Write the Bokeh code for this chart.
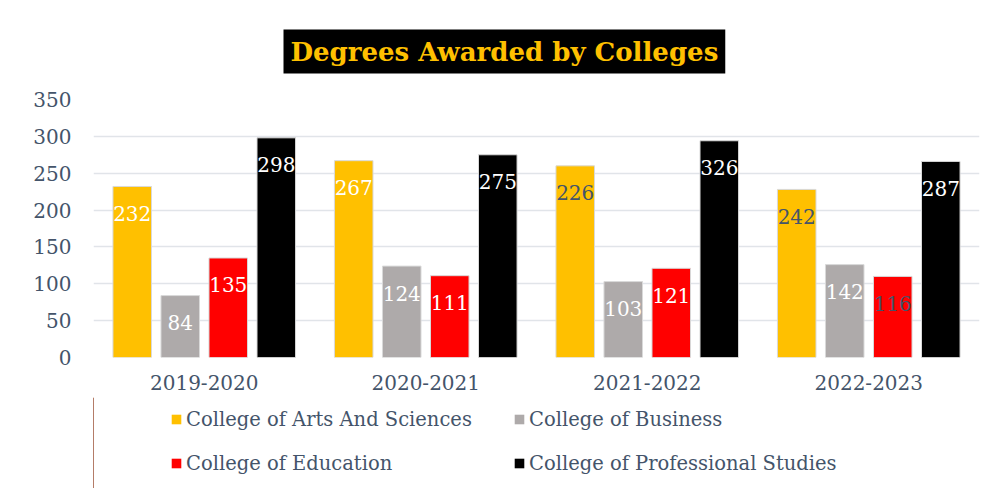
from bokeh.plotting import figure
from bokeh.layouts import column
from bokeh.models import ColumnDataSource, FactorRange, Range1d, FixedTicker, Legend, LegendItem
from bokeh.transform import dodge
from bokeh.core.properties import value
from bokeh.embed import file_html
from bokeh.resources import INLINE

years = ["2019-2020", "2020-2021", "2021-2022", "2022-2023"]
series = ["College of Arts And Sciences", "College of Business",
          "College of Education", "College of Professional Studies"]
# bar heights as drawn
arts = [232, 267, 260, 228]
business = [84, 124, 103, 126]
education = [135, 111, 121, 110]
professional = [298, 275, 294, 266]
# data labels as printed
arts_lbl = ["232", "267", "226", "242"]
business_lbl = ["84", "124", "103", "142"]
education_lbl = ["135", "111", "121", "116"]
professional_lbl = ["298", "275", "326", "287"]
y_ticks = [0, 50, 100, 150, 200, 250, 300, 350]

colors = ["#FFC000", "#AEAAAA", "#FF0000", "#000000"]
WHITE, SLATE = "#FFFFFF", "#44546A"
label_colors = [
    [WHITE, WHITE, SLATE, SLATE],
    [WHITE, WHITE, WHITE, WHITE],
    [WHITE, WHITE, WHITE, SLATE],
    [WHITE, WHITE, WHITE, WHITE],
]
FONT = "DejaVu Serif"

p = figure(x_range=FactorRange(*years, range_padding=0), y_range=Range1d(0, 350),
           frame_width=886, frame_height=258, output_backend="svg", toolbar_location=None,
           min_border_left=93, min_border_right=11, min_border_top=99, min_border_bottom=40)

pitch = 0.2168
offsets = [-1.5 * pitch, -0.5 * pitch, 0.5 * pitch, 1.5 * pitch]
vals = [arts, business, education, professional]
lbls = [arts_lbl, business_lbl, education_lbl, professional_lbl]

for i, name in enumerate(series):
    src = ColumnDataSource(dict(x=years, y=vals[i], t=lbls[i], c=label_colors[i]))
    p.vbar(x=dodge("x", offsets[i], range=p.x_range), top="y", width=0.174, source=src,
           fill_color=colors[i], line_color="#D9D9D9", line_width=1)
    p.text(x=dodge("x", offsets[i], range=p.x_range), y="y", text="t", source=src,
           text_color="c", text_font=value(FONT), text_font_size="20px",
           text_align="center", text_baseline="middle", y_offset=27)

p.title.text = "Degrees Awarded by Colleges"
p.title.text_font = FONT
p.title.text_font_size = "26px"
p.title.text_font_style = "bold"
p.title.text_color = "#FFC000"
p.title.background_fill_color = "#000000"
p.title.padding = 7
p.title.align = "left"
p.title.offset = 190
p.title.standoff = 52

p.yaxis.ticker = FixedTicker(ticks=y_ticks)
p.yaxis.axis_line_color = None
p.yaxis.major_tick_line_color = None
p.yaxis.minor_tick_line_color = None
p.yaxis.major_label_standoff = 16
p.yaxis.major_label_text_font = FONT
p.yaxis.major_label_text_font_size = "20px"
p.yaxis.major_label_text_color = SLATE

p.xaxis.axis_line_color = None
p.xaxis.major_tick_line_color = None
p.xaxis.minor_tick_line_color = None
p.xaxis.major_label_standoff = 11
p.xaxis.major_label_text_font = FONT
p.xaxis.major_label_text_font_size = "20px"
p.xaxis.major_label_text_color = SLATE

p.xgrid.grid_line_color = None
p.ygrid.grid_line_color = "#E1E4E9"
p.ygrid.grid_line_width = 1.5
p.outline_line_color = None

# legend panel below the chart (frame aligned with the chart's frame)
lf = figure(width=990, height=91, output_backend="svg", toolbar_location=None,
            x_range=Range1d(0, 1), y_range=Range1d(0, 1),
            x_axis_location=None, y_axis_location=None, min_border=0)
lf.grid.grid_line_color = None
lf.outline_line_color = None
items = []
for i, name in enumerate(series):
    # proxy renderers lie outside the visible range; only their legend swatches show
    r = lf.vbar(x=[-10], top=[1], width=0.1, fill_color=colors[i], line_color=None)
    items.append(LegendItem(label=name, renderers=[r]))

def make_legend(its, y):
    return Legend(items=its, orientation="horizontal", location=(77, y),
                  glyph_width=12, glyph_height=12, label_standoff=4, label_width=307,
                  label_height=24, spacing=20, padding=0, margin=0,
                  label_text_font=FONT, label_text_font_size="19.5px", label_text_color=SLATE,
                  border_line_color=None, background_fill_alpha=0)

lf.add_layout(make_legend(items[:2], 57))
lf.add_layout(make_legend(items[2:], 13))

open("out.html", "w").write(file_html(column(p, lf, spacing=0), INLINE))
